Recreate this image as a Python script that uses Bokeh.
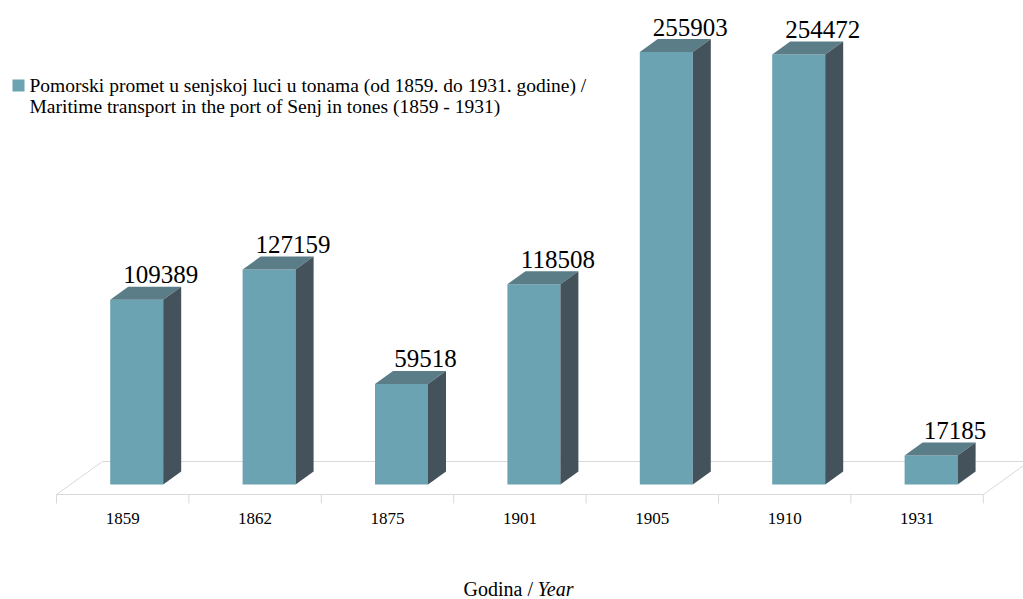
from bokeh.plotting import figure
from bokeh.models import Range1d, ColumnDataSource
from bokeh.embed import file_html
from bokeh.resources import INLINE
from bokeh.core.properties import value

# ---- data ----
years = ["1859", "1862", "1875", "1901", "1905", "1910", "1931"]
tonnage = [109389, 127159, 59518, 118508, 255903, 254472, 17185]
legend_lines = [
    "Pomorski promet u senjskoj luci u tonama (od 1859. do 1931. godine) /",
    "Maritime transport in the port of Senj in tones (1859 - 1931)",
]
axis_title = "Godina / "
axis_title_it = "Year"

# ---- geometry (pixel scale of the frame) ----
PX_X = 132.4      # px per category
PX_Y = 0.00169    # px per tonne
W, H = 1023, 599
ORIGIN_X, ORIGIN_Y = 56, 484   # picture px of category 0 / value 0 (front base)
BASE_FIX = 0.36                # baseline correction (em) of the svg text

def dx(px):
    return px / PX_X

def dy(px):
    return px / PX_Y

def X(px):
    return (px - ORIGIN_X) / PX_X

def Y(py):
    return (ORIGIN_Y - py) / PX_Y

FRONT = "#6ba3b3"
TOP = "#5a7d87"
SIDE = "#44535b"
FLOOR = "#d9d9d9"
FONT = "Liberation Serif"

p = figure(
    width=W, height=H,
    x_range=Range1d(X(0), X(W)),
    y_range=Range1d(Y(H), Y(0)),
    output_backend="svg", toolbar_location=None,
    x_axis_location=None, y_axis_location=None,
    min_border=0,
)
p.outline_line_color = None
p.grid.visible = False
p.background_fill_color = "white"
p.border_fill_color = "white"

n = len(years)
# ---- floor (3D plane) with category ticks ----
fx_back = dx(46)
fy_front = Y(494)
fy_back = Y(461)
p.line([n, 0, fx_back, n + fx_back], [fy_front, fy_front, fy_back, fy_back],
       line_color=FLOOR, line_width=1)
p.line([n, n + fx_back], [fy_front, fy_back], line_color=FLOOR, line_width=1)
bounds = list(range(n + 1))
p.segment(x0=bounds, y0=[fy_front] * (n + 1), x1=bounds, y1=[Y(503)] * (n + 1),
          line_color=FLOOR, line_width=1)

# ---- bars ----
off = dx(14)
half = dx(26.5)
ddx, ddy = dx(18), dy(13)
left = [i + 0.5 + off - half for i in range(n)]
right = [i + 0.5 + off + half for i in range(n)]
src = ColumnDataSource(dict(left=left, right=right, top=tonnage, bottom=[0] * n))
p.quad(left="left", right="right", top="top", bottom="bottom", source=src,
       fill_color=FRONT, line_color=None)

top_xs = [[l, r, r + ddx, l + ddx] for l, r in zip(left, right)]
top_ys = [[v, v, v + ddy, v + ddy] for v in tonnage]
p.patches(top_xs, top_ys, fill_color=TOP, line_color=None)

side_xs = [[r, r + ddx, r + ddx, r] for r in right]
side_ys = [[0, ddy, v + ddy, v] for v in tonnage]
p.patches(side_xs, side_ys, fill_color=SIDE, line_color=None)

# ---- value labels ----
lab_src = ColumnDataSource(dict(
    x=[i + 0.5 + off + dx(24) for i in range(n)],
    y=[v + dy(25) for v in tonnage],
    t=[str(v) for v in tonnage],
))
p.text(x="x", y="y", text="t", source=lab_src, text_align="center",
       text_baseline="alphabetic", text_font=value(FONT), text_font_size="25px",
       text_color="black")

# ---- category labels ----
p.text(x=[i + 0.5 for i in range(n)], y=[Y(524 - BASE_FIX * 17)] * n, text=years,
       text_align="center", text_baseline="alphabetic", text_font=value(FONT),
       text_font_size="17px", text_color="black")

# ---- axis title ----
p.text(x=[X(463)], y=[Y(596 - BASE_FIX * 20)], text=[axis_title], text_align="left",
       text_baseline="alphabetic", text_font=value(FONT), text_font_size="20px",
       text_color="black")
p.text(x=[X(537)], y=[Y(596 - BASE_FIX * 20)], text=[axis_title_it], text_align="left",
       text_baseline="alphabetic", text_font=value(FONT), text_font_size="20px",
       text_font_style=value("italic"), text_color="black")

# ---- legend ----
p.quad(left=[X(12)], right=[X(24)], top=[Y(79)], bottom=[Y(91)],
       fill_color=FRONT, line_color=None)
p.text(x=[X(29), X(29)], y=[Y(92 - BASE_FIX * 19.5), Y(113 - BASE_FIX * 19.5)],
       text=legend_lines, text_align="left", text_baseline="alphabetic",
       text_font=value(FONT), text_font_size="19.5px", text_color="black")

open("out.html", "w").write(file_html(p, INLINE))
